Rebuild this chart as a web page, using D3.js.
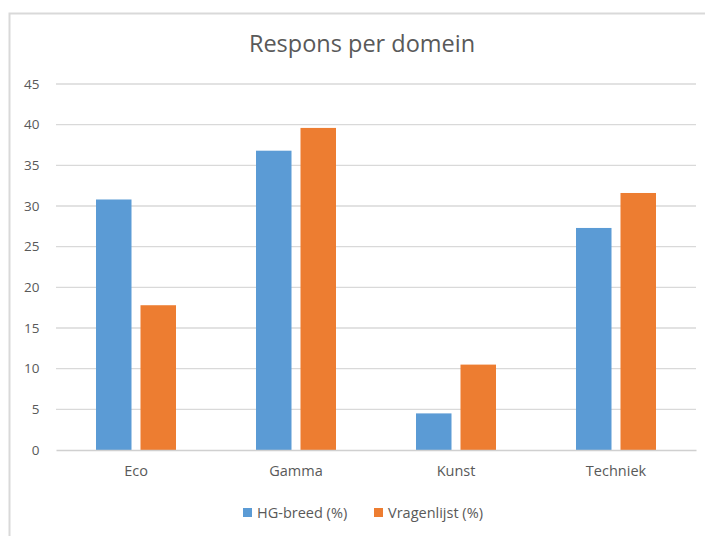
<!DOCTYPE html>
<html>
<head>
<meta charset="utf-8">
<script src="https://cdn.jsdelivr.net/npm/d3@7"></script>
<style>
  html, body { margin: 0; padding: 0; background: #fff; }
  svg { display: block; }
  text { font-family: "Open Sans", "Noto Sans", sans-serif; }
</style>
</head>
<body>
<svg id="chart" width="705" height="536"></svg>
<script>
const title = "Respons per domein";
const categories = ["Eco", "Gamma", "Kunst", "Techniek"];
const seriesNames = ["HG-breed (%)", "Vragenlijst (%)"];
const hgBreed = [30.8, 36.8, 4.5, 27.3];
const vragenlijst = [17.8, 39.6, 10.5, 31.6];
const yTicks = [0, 5, 10, 15, 20, 25, 30, 35, 40, 45];
const colors = ["#5b9bd5", "#ed7d31"];

const svg = d3.select("#chart");
const W = 705, H = 536;

// outer border
svg.append("rect").attr("x", 9.5).attr("y", 13.5).attr("width", W + 10).attr("height", H + 10)
  .attr("fill", "#fff").attr("stroke", "#d9d9d9").attr("stroke-width", 2);

const m = { left: 56, right: 9, top: 84, bottom: 86 };
const x = d3.scaleBand().domain(categories).range([m.left, W - m.right]).paddingInner(0).paddingOuter(0);
const y = d3.scaleLinear().domain([0, 45]).range([H - m.bottom, m.top]);

// gridlines
svg.append("g").selectAll("line").data(yTicks.filter(d => d > 0)).join("line")
  .attr("x1", m.left).attr("x2", W - m.right)
  .attr("y1", d => y(d)).attr("y2", d => y(d))
  .attr("stroke", "#d9d9d9").attr("stroke-width", 1.3);

// y tick labels
const yAxis = d3.axisLeft(y).tickValues(yTicks).tickSize(0).tickPadding(0);
const gy = svg.append("g").attr("transform", `translate(${39.5},0)`).call(yAxis);
gy.select(".domain").remove();
gy.selectAll("text").attr("fill", "#595959").style("font-size", "13.5px");

// bars
const barW = 35.5, gap = 9;
const data = categories.map((c, i) => ({ c, vals: [hgBreed[i], vragenlijst[i]] }));
const groups = svg.append("g").selectAll("g").data(data).join("g");
groups.each(function(d) {
  const cx = x(d.c) + x.bandwidth() / 2;
  const start = cx - (barW * 2 + gap) / 2;
  d3.select(this).selectAll("rect").data(d.vals).join("rect")
    .attr("x", (v, j) => start + j * (barW + gap))
    .attr("width", barW)
    .attr("y", v => y(v))
    .attr("height", v => y(0) - y(v))
    .attr("fill", (v, j) => colors[j]);
});

// x axis
const xAxis = d3.axisBottom(x).tickSize(0).tickPadding(16);
const gx = svg.append("g").attr("transform", `translate(0,${y(0)})`).call(xAxis);
gx.select(".domain").attr("stroke", "#d0d0d0").attr("stroke-width", 1.3);
gx.selectAll("text").attr("fill", "#595959").style("font-size", "14.5px");

// title
svg.append("text").attr("x", 362).attr("y", 52).attr("text-anchor", "middle")
  .attr("fill", "#595959").style("font-size", "23.5px").text(title);

// legend
const legendItems = [{ name: seriesNames[0], x: 243 }, { name: seriesNames[1], x: 374 }];
const lg = svg.append("g").selectAll("g").data(legendItems).join("g")
  .attr("transform", d => `translate(${d.x},${508})`);
lg.append("rect").attr("width", 9).attr("height", 9).attr("fill", (d, i) => colors[i]);
lg.append("text").attr("x", 14).attr("y", 9.5).attr("fill", "#595959").style("font-size", "14.5px")
  .text(d => d.name);
</script>
</body>
</html>
